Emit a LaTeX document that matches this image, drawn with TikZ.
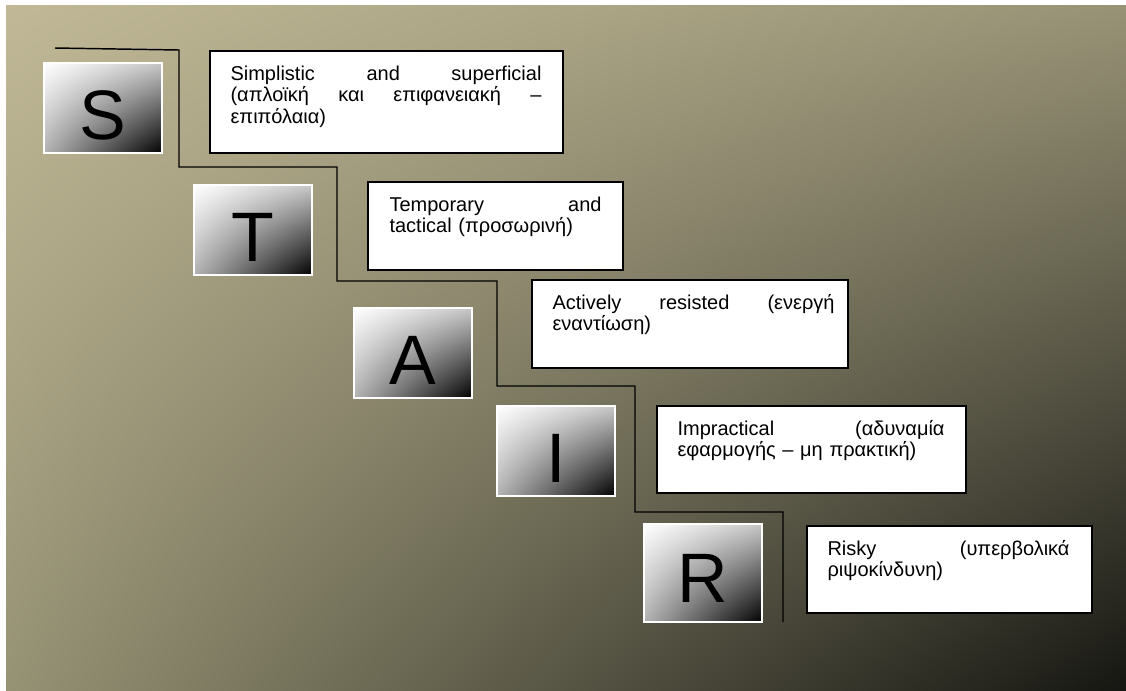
\documentclass[tikz,border=0pt]{standalone}
\usepackage{fontspec}
\setmainfont{Liberation Sans}
\usetikzlibrary{calc,shadings}
\definecolor{bgTL}{RGB}{192,184,150}
\definecolor{bgTR}{RGB}{152,147,118}
\definecolor{bgBL}{RGB}{150,146,116}
\definecolor{bgBR}{RGB}{22,22,18}
\begin{document}
\begin{tikzpicture}[x=0.75pt,y=-0.75pt,
  lbox/.style={draw=white, line width=1.1pt, inner sep=0pt,
    upper left=white, upper right=black!22, lower left=black!30, lower right=black,
    minimum width=118*0.75pt, minimum height=90*0.75pt},
  letter/.style={font=\fontsize{52.5}{52.5}\selectfont, inner sep=0pt, anchor=base},
  tbox/.style={draw=black, fill=white, line width=1.1pt, inner sep=0pt},
  txt/.style={font=\fontsize{15}{16.2}\selectfont, inner sep=0pt, anchor=base west, align=left},
  stair/.style={draw=black, line width=1.1pt}
]
\useasboundingbox (0,0) rectangle (1126,690);
\fill[white] (0,0) rectangle (1126,690);
\path[upper left=bgTL, upper right=bgTR, lower left=bgBL, lower right=bgBR] (6,5) rectangle (1126,690);

% staircase
\coordinate (c0) at (55,48);
\coordinate (c1) at (179,50);
\coordinate (c2) at (179,167);
\coordinate (c3) at (337,167);
\coordinate (c4) at (337,281);
\coordinate (c5) at (497,281);
\coordinate (c6) at (497,386);
\coordinate (c7) at (635,386);
\coordinate (c8) at (635,512);
\coordinate (c9) at (783,512);
\coordinate (c10) at (783,622);
\draw[stair] (c0) -- (c1) -- (c2) -- (c3) -- (c4) -- (c5) -- (c6) -- (c7) -- (c8) -- (c9) -- (c10);

% letter boxes
\node[lbox] (S) at (103,108) {};
\node[lbox] (T) at (253,230) {};
\node[lbox] (A) at (413,353) {};
\node[lbox] (I) at (556,451) {};
\node[lbox, minimum height=98*0.75pt] (R) at (703,573) {};
\node[letter] (Sl) at ($(S.center)+(0,31)$) {S};
\node[letter] (Tl) at ($(T.center)+(0,31)$) {T};
\node[letter] (Al) at ($(A.center)+(0,31)$) {A};
\node[letter] (Il) at ($(I.center)+(0,31)$) {I};
\node[letter] (Rl) at ($(R.center)+(0,29)$) {R};

% text boxes
\node[tbox, minimum width=353*0.75pt, minimum height=102*0.75pt] (b1) at (386.5,102) {};
\node[tbox, minimum width=255*0.75pt, minimum height=88*0.75pt] (b2) at (495.5,226) {};
\node[tbox, minimum width=316*0.75pt, minimum height=88*0.75pt] (b3) at (690,324) {};
\node[tbox, minimum width=309*0.75pt, minimum height=87*0.75pt] (b4) at (811.5,449.5) {};
\node[tbox, minimum width=285*0.75pt, minimum height=87*0.75pt] (b5) at (949.5,569.5) {};

\node[txt, text width=311*0.75pt] (t1) at ($(b1.north west)+(21,30)$)
  {\hbox to\hsize{Simplistic\hfill and\hfill superficial}
   \hbox to\hsize{(απλοϊκή\hfill και\hfill επιφανειακή\hfill –}
   \hbox{επιπόλαια)}};
\node[txt, text width=212*0.75pt] (t2) at ($(b2.north west)+(22,30)$)
  {\hbox to\hsize{Temporary\hfill and}
   \hbox{tactical (προσωρινή)}};
\node[txt, text width=282*0.75pt] (t3) at ($(b3.north west)+(21,30)$)
  {\hbox to\hsize{Actively\hfill resisted\hfill (ενεργή}
   \hbox{εναντίωση)}};
\node[txt, text width=267*0.75pt] (t4) at ($(b4.north west)+(21,30)$)
  {\hbox to\hsize{Impractical\hfill (αδυναμία}
   \hbox{εφαρμογής – μη πρακτική)}};
\node[txt, text width=242*0.75pt] (t5) at ($(b5.north west)+(21,30)$)
  {\hbox to\hsize{Risky\hfill (υπερβολικά}
   \hbox{ριψοκίνδυνη)}};
\end{tikzpicture}
\end{document}
